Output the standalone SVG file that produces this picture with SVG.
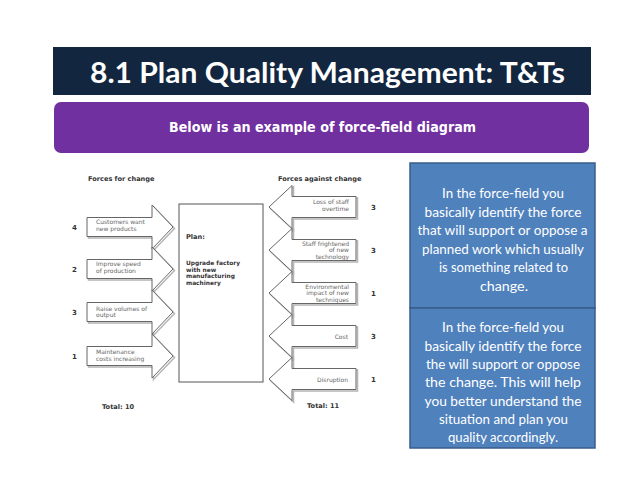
<svg xmlns="http://www.w3.org/2000/svg" xmlns:xlink="http://www.w3.org/1999/xlink" width="638" height="493" viewBox="0 0 638 493">
<style>
.bx{fill:#4f81bd;stroke:#385d8a;stroke-width:1.5}
.bt{font-family:Lato,"Open Sans","Liberation Sans",sans-serif;font-size:14px;fill:#fff;text-anchor:middle}
.ar{fill:#fff;stroke:#666;stroke-width:1}
.sh{fill:none;stroke:#b4b4b4;stroke-width:1.5}
.hd{font-family:"DejaVu Sans",Verdana,sans-serif;font-size:6.6px;font-weight:bold;fill:#333}
.pt{font-family:"DejaVu Sans",Verdana,sans-serif;font-size:5.9px;font-weight:bold;fill:#333}
.lb{font-family:"DejaVu Sans",Verdana,sans-serif;font-size:6px;fill:#666}
.nm{font-family:"DejaVu Sans",Verdana,sans-serif;font-size:7px;font-weight:bold;fill:#333}
.rt{text-anchor:end}
</style>
<defs>
<polygon id="pr" points="0,-9.5 65,-9.5 65,-22 86,0 65,22 65,9.5 0,9.5"/>
<polygon id="pl" points="0,-10.5 -64,-10.5 -64,-21.5 -87,0 -64,21.5 -64,10.5 0,10.5"/>
</defs>
<rect width="638" height="493" fill="#fff"/>
<g id="title">
<rect x="53" y="47" width="538" height="48" fill="#132640"/>
<text x="90" y="83" textLength="475" lengthAdjust="spacingAndGlyphs" font-family="Lato,'Open Sans','Liberation Sans',sans-serif" font-size="28" font-weight="bold" fill="#fff">8.1 Plan Quality Management: T&amp;Ts</text>
</g>
<g id="subtitle">
<rect x="54" y="102" width="535" height="51" rx="7" fill="#7030a0"/>
<text x="169" y="132" textLength="307" lengthAdjust="spacingAndGlyphs" font-family="'DejaVu Sans','Liberation Sans',sans-serif" font-size="13.5" font-weight="bold" fill="#fff">Below is an example of force-field diagram</text>
</g>
<g id="box1">
<rect class="bx" x="410" y="163" width="185" height="145"/>
<text class="bt" x="503" y="198" textLength="122" lengthAdjust="spacingAndGlyphs">In the force-field you</text>
<text class="bt" x="503" y="216.5" textLength="157" lengthAdjust="spacingAndGlyphs">basically identify the force</text>
<text class="bt" x="502.5" y="235" textLength="170" lengthAdjust="spacingAndGlyphs">that will support or oppose a</text>
<text class="bt" x="503" y="253.5" textLength="162" lengthAdjust="spacingAndGlyphs">planned work which usually</text>
<text class="bt" x="503.5" y="272" textLength="129" lengthAdjust="spacingAndGlyphs">is something related to</text>
<text class="bt" x="504" y="290.5" textLength="48" lengthAdjust="spacingAndGlyphs">change.</text>
</g>
<g id="box2">
<rect class="bx" x="410" y="308" width="185" height="140"/>
<text class="bt" x="503" y="332" textLength="122" lengthAdjust="spacingAndGlyphs">In the force-field you</text>
<text class="bt" x="503" y="350.5" textLength="157" lengthAdjust="spacingAndGlyphs">basically identify the force</text>
<text class="bt" x="503" y="369" textLength="154" lengthAdjust="spacingAndGlyphs">the will support or oppose</text>
<text class="bt" x="503" y="387" textLength="156" lengthAdjust="spacingAndGlyphs">the change. This will help</text>
<text class="bt" x="503" y="405.5" textLength="157" lengthAdjust="spacingAndGlyphs">you better understand the</text>
<text class="bt" x="503.5" y="424" textLength="129" lengthAdjust="spacingAndGlyphs">situation and plan you</text>
<text class="bt" x="503" y="442" textLength="110" lengthAdjust="spacingAndGlyphs">quality accordingly.</text>
</g>
<g id="diagram">
<text class="hd" x="88" y="181">Forces for change</text>
<text class="hd" x="278" y="181">Forces against change</text>
<g id="plan">
<rect x="179" y="204" width="84" height="178" fill="#fff" stroke="#555" stroke-width="1"/>
<text class="hd" x="186" y="239">Plan:</text>
<text class="pt" x="186" y="265">Upgrade factory</text>
<text class="pt" x="186" y="271.5">with new</text>
<text class="pt" x="186" y="278">manufacturing</text>
<text class="pt" x="186" y="284.5">machinery</text>
</g>
<g id="connectors">
<g id="f1"><use xlink:href="#pr" class="sh" transform="translate(88.5,228.5)"/><use xlink:href="#pr" class="ar" transform="translate(87,227)"/>
<text class="lb" x="96" y="224">Customers want</text><text class="lb" x="96" y="230.5">new products</text><text class="nm" x="72" y="229.5">4</text></g>
<g id="f2"><use xlink:href="#pr" class="sh" transform="translate(88.5,270.5)"/><use xlink:href="#pr" class="ar" transform="translate(87,269)"/>
<text class="lb" x="96" y="266">Improve speed</text><text class="lb" x="96" y="273">of production</text><text class="nm" x="72" y="271.5">2</text></g>
<g id="f3"><use xlink:href="#pr" class="sh" transform="translate(88.5,313.5)"/><use xlink:href="#pr" class="ar" transform="translate(87,312)"/>
<text class="lb" x="96" y="310.5">Raise volumes of</text><text class="lb" x="96" y="317">output</text><text class="nm" x="72" y="314.5">3</text></g>
<g id="f4"><use xlink:href="#pr" class="sh" transform="translate(88.5,357.5)"/><use xlink:href="#pr" class="ar" transform="translate(87,356)"/>
<text class="lb" x="96" y="354">Maintenance</text><text class="lb" x="96" y="361">costs increasing</text><text class="nm" x="72" y="358.5">1</text></g>
<g id="a1"><use xlink:href="#pl" class="sh" transform="translate(357.5,208.5)"/><use xlink:href="#pl" class="ar" transform="translate(356,207)"/>
<text class="lb rt" x="349" y="204">Loss of staff</text><text class="lb rt" x="349" y="211">overtime</text><text class="nm" x="371" y="209.5">3</text></g>
<g id="a2"><use xlink:href="#pl" class="sh" transform="translate(357.5,251.5)"/><use xlink:href="#pl" class="ar" transform="translate(356,250)"/>
<text class="lb rt" x="349" y="245.5">Staff frightened</text><text class="lb rt" x="349" y="252">of new</text><text class="lb rt" x="349" y="258.5">technology</text><text class="nm" x="371" y="252.5">3</text></g>
<g id="a3"><use xlink:href="#pl" class="sh" transform="translate(357.5,294.5)"/><use xlink:href="#pl" class="ar" transform="translate(356,293)"/>
<text class="lb rt" x="349" y="288.5">Environmental</text><text class="lb rt" x="349" y="295">impact of new</text><text class="lb rt" x="349" y="301.5">techniques</text><text class="nm" x="371" y="295.5">1</text></g>
<g id="a4"><use xlink:href="#pl" class="sh" transform="translate(357.5,337.5)"/><use xlink:href="#pl" class="ar" transform="translate(356,336)"/>
<text class="lb rt" x="348" y="338.5">Cost</text><text class="nm" x="371" y="338.5">3</text></g>
<g id="a5"><use xlink:href="#pl" class="sh" transform="translate(357.5,380.5)"/><use xlink:href="#pl" class="ar" transform="translate(356,379)"/>
<text class="lb rt" x="348" y="381.5">Disruption</text><text class="nm" x="371" y="381.5">1</text></g>
</g>
<text class="hd" x="102" y="409">Total: 10</text>
<text class="hd" x="307" y="408">Total: 11</text>
</g>
</svg>
